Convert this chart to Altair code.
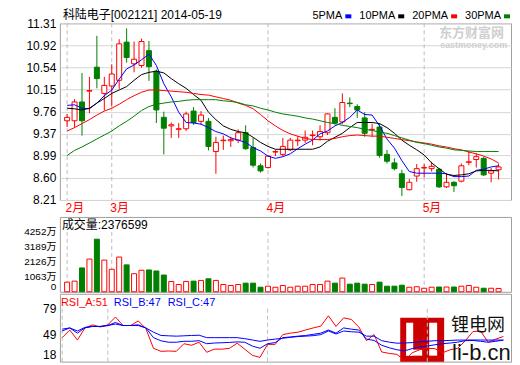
import altair as alt
import pandas as pd

# ---------------- data ----------------
IDX = list(range(59))
OPEN = [9.60, 9.60, 9.93, 10.12, 10.54, 10.08, 10.21, 10.31, 10.98, 10.60,
        10.57, 10.83, 10.47, 9.66, 9.51, 9.45, 9.46, 9.77, 9.59, 9.59,
        9.06, 9.25, 9.25, 9.26, 9.39, 9.13, 8.81, 8.78, 9.05, 9.01,
        9.09, 9.25, 9.26, 9.34, 9.32, 9.39, 9.66, 9.58, 9.91, 9.85,
        9.65, 9.44, 9.49, 9.01, 8.86, 8.67, 8.39, 8.63, 8.77, 8.76,
        8.75, 8.44, 8.52, 8.54, 8.87, 8.92, 8.94, 8.68, 8.74]
HIGH = [9.72, 9.98, 10.44, 10.37, 11.09, 10.37, 10.59, 11.03, 11.22, 10.99,
        11.04, 11.00, 10.50, 9.76, 9.57, 9.56, 9.76, 9.84, 9.77, 9.65,
        9.32, 9.34, 9.32, 9.45, 9.52, 9.30, 8.85, 9.00, 9.09, 9.30,
        9.30, 9.33, 9.43, 9.43, 9.52, 9.73, 9.82, 10.08, 10.01, 9.89,
        9.75, 9.55, 9.55, 9.09, 8.94, 8.74, 8.58, 8.84, 8.84, 8.88,
        8.77, 8.68, 8.54, 8.85, 9.07, 9.03, 8.97, 8.77, 8.85]
LOW = [9.49, 9.48, 9.34, 9.73, 10.17, 9.78, 9.85, 10.16, 10.62, 10.45,
       10.53, 10.30, 9.56, 9.01, 9.30, 9.30, 9.42, 9.53, 9.53, 9.08,
       8.67, 9.09, 9.14, 9.21, 9.09, 8.78, 8.69, 8.76, 8.98, 8.98,
       9.07, 9.16, 9.21, 9.17, 9.25, 9.35, 9.53, 9.54, 9.84, 9.65,
       9.32, 9.32, 8.95, 8.85, 8.73, 8.28, 8.38, 8.53, 8.61, 8.71,
       8.42, 8.42, 8.35, 8.52, 8.82, 8.78, 8.63, 8.52, 8.57]
CLOSE = [9.66, 9.93, 9.60, 10.13, 10.34, 10.22, 10.42, 10.95, 10.71, 10.68,
         10.99, 10.55, 9.79, 9.47, 9.53, 9.46, 9.72, 9.57, 9.70, 9.15,
         9.22, 9.26, 9.27, 9.39, 9.11, 8.82, 8.72, 8.98, 9.06, 9.15,
         9.26, 9.26, 9.31, 9.35, 9.41, 9.72, 9.56, 9.92, 9.90, 9.79,
         9.38, 9.45, 8.99, 8.89, 8.76, 8.43, 8.52, 8.76, 8.78, 8.80,
         8.44, 8.52, 8.46, 8.81, 8.88, 8.97, 8.65, 8.72, 8.79]
VOLUME = [685, 757, 1694, 2322, 3735, 2250, 1600, 2466, 1911, 1283,
          1528, 1550, 1478, 1190, 735, 519, 735, 757, 808, 923,
          808, 519, 447, 519, 613, 613, 324, 397, 324, 447,
          324, 397, 397, 519, 519, 757, 613, 973, 541, 613,
          541, 519, 685, 397, 397, 469, 324, 360, 252, 324,
          340, 340, 340, 397, 447, 324, 252, 252, 238]
MA5 = [9.87, 9.88, 9.82, 9.81, 9.91, 10.04, 10.14, 10.33, 10.51, 10.58,
       10.67, 10.77, 10.57, 10.25, 10.02, 9.75, 9.57, 9.56, 9.54, 9.48,
       9.41, 9.37, 9.30, 9.26, 9.22, 9.13, 9.07, 8.98, 8.94, 8.97,
       9.02, 9.11, 9.19, 9.26, 9.37, 9.42, 9.51, 9.57, 9.66, 9.79,
       9.71, 9.70, 9.51, 9.28, 9.12, 8.90, 8.71, 8.68, 8.68, 8.68,
       8.68, 8.67, 8.62, 8.62, 8.63, 8.73, 8.75, 8.79, 8.81]
MA10 = [9.82, 9.81, 9.79, 9.82, 9.91, 9.99, 10.08, 10.14, 10.20, 10.31,
        10.41, 10.45, 10.47, 10.44, 10.34, 10.25, 10.17, 10.06, 9.96, 9.75,
        9.62, 9.51, 9.45, 9.41, 9.39, 9.31, 9.22, 9.15, 9.10, 9.10,
        9.10, 9.10, 9.10, 9.10, 9.14, 9.24, 9.31, 9.38, 9.48, 9.57,
        9.57, 9.57, 9.55, 9.48, 9.38, 9.26, 9.17, 9.09, 9.00, 8.86,
        8.76, 8.66, 8.64, 8.65, 8.67, 8.72, 8.73, 8.73, 8.72]
MA20 = [9.42, 9.48, 9.55, 9.62, 9.70, 9.77, 9.82, 9.89, 9.97, 10.04,
        10.10, 10.14, 10.14, 10.13, 10.12, 10.11, 10.10, 10.08, 10.06, 10.05,
        10.02, 9.99, 9.96, 9.91, 9.87, 9.81, 9.71, 9.60, 9.51, 9.43,
        9.37, 9.33, 9.29, 9.27, 9.27, 9.27, 9.29, 9.32, 9.34, 9.35,
        9.34, 9.33, 9.33, 9.31, 9.29, 9.27, 9.25, 9.23, 9.21, 9.19,
        9.16, 9.14, 9.11, 9.09, 9.05, 9.02, 8.98, 8.93, 8.86]
MA30 = [8.99, 9.08, 9.14, 9.21, 9.28, 9.35, 9.42, 9.51, 9.59, 9.68,
        9.78, 9.85, 9.89, 9.91, 9.93, 9.94, 9.96, 9.97, 9.97, 9.97,
        9.97, 9.95, 9.94, 9.92, 9.88, 9.86, 9.82, 9.79, 9.75, 9.72,
        9.70, 9.68, 9.65, 9.63, 9.60, 9.57, 9.55, 9.52, 9.50, 9.48,
        9.45, 9.43, 9.40, 9.38, 9.34, 9.30, 9.26, 9.22, 9.20, 9.17,
        9.14, 9.12, 9.09, 9.08, 9.07, 9.06, 9.06, 9.06, 9.06]
RSI_A = [45.7, 54.5, 42.9, 56.9, 60.4, 58.0, 60.4, 69.5, 59.7, 59.7,
         65.0, 56.2, 33.4, 29.9, 30.3, 29.9, 38.7, 36.9, 40.4, 28.8,
         32.4, 32.4, 33.4, 39.3, 32.4, 25.3, 22.9, 37.9, 37.9, 49.2,
         50.9, 52.0, 54.5, 56.9, 59.0, 70.9, 58.7, 68.5, 66.7, 58.0,
         42.2, 49.2, 29.2, 27.5, 26.4, 19.4, 28.2, 31.7, 33.4, 33.0,
         28.2, 31.7, 33.4, 42.2, 52.7, 53.4, 40.4, 44.0, 47.0]
RSI_B = [53.4, 56.9, 50.9, 57.0, 58.7, 58.5, 59.7, 63.2, 59.7, 59.7,
         60.5, 56.9, 45.7, 42.0, 40.4, 40.4, 41.5, 41.5, 42.2, 38.7,
         39.5, 39.8, 40.2, 40.8, 40.4, 36.0, 33.4, 38.7, 40.0, 45.7,
         46.5, 47.4, 48.2, 49.5, 50.9, 54.5, 50.9, 56.9, 55.5, 54.5,
         44.0, 42.5, 36.9, 34.0, 31.7, 30.5, 33.0, 35.0, 36.0, 37.5,
         38.7, 39.5, 40.5, 42.2, 42.5, 41.5, 40.4, 41.5, 42.9]
RSI_C = [55.5, 56.9, 53.4, 57.5, 58.7, 58.7, 59.7, 61.4, 59.7, 59.7,
         59.7, 56.9, 52.0, 48.2, 47.8, 47.4, 47.8, 48.2, 48.5, 45.7,
         45.7, 45.7, 45.7, 45.7, 44.5, 43.0, 41.4, 43.0, 44.0, 45.0,
         46.0, 47.0, 47.4, 48.0, 49.2, 53.4, 49.9, 53.4, 52.5, 52.0,
         47.4, 47.4, 42.2, 40.5, 39.3, 39.5, 40.0, 41.0, 41.5, 42.2,
         42.2, 42.5, 42.9, 42.9, 43.0, 43.0, 42.9, 42.9, 42.9]

MONTH_POS = [0, 6, 27, 48]
MONTH_LABELS = ["2月", "3月", "4月", "5月"]
PRICE_TICKS = [8.21, 8.60, 8.99, 9.37, 9.76, 10.15, 10.54, 10.92, 11.31]
VOL_TICKS = [0, 1063, 2126, 3189, 4252]
RSI_TICKS = [18, 49, 79]
MA_NAMES = ["5PMA", "10PMA", "20PMA", "30PMA"]
MA_COLORS = ["#0000ff", "#000000", "#ff0000", "#008000"]
RSI_NAMES = ["RSI_A:51", "RSI_B:47", "RSI_C:47"]
RSI_COLORS = ["#ff0000", "#0000ff", "#0000ff"]
TITLE = "科陆电子[002121] 2014-05-19"
VOL_TITLE = "成交量:2376599"
WM_TOP = ["东方财富网", "eastmoney.com"]
WM_BOTTOM = ["锂电网", "li-b.cn"]

# ---------------- styling ----------------
FONT = "Liberation Sans, Noto Sans CJK SC"
RED = "#ff0000"
GREEN = "#008000"
W = 452
UP = "datum.close >= datum.open"
one = pd.DataFrame({"a": [0]})

df = pd.DataFrame({"i": IDX, "open": OPEN, "high": HIGH, "low": LOW,
                   "close": CLOSE, "vol": VOLUME})
months = pd.DataFrame({"pos": MONTH_POS})
ma_df = pd.concat([pd.DataFrame({"i": IDX, "v": vals, "s": name})
                   for name, vals in zip(MA_NAMES, [MA5, MA10, MA20, MA30])])
rsi_df = pd.concat([pd.DataFrame({"i": IDX, "v": vals, "s": name})
                    for name, vals in zip(RSI_NAMES, [RSI_A, RSI_B, RSI_C])])

xs = alt.Scale(domain=[-0.3, 59.0], nice=False, zero=False)
month_expr = "".join(f"datum.value == {p} ? '{l}' : " for p, l in zip(MONTH_POS, MONTH_LABELS)) + "''"
month_axis = alt.Axis(values=MONTH_POS, labelExpr=month_expr, title=None, ticks=False,
                      domain=False, grid=False, labelColor=RED, labelFontSize=12,
                      labelAlign="left", labelOffset=-2, labelPadding=3, labelFlush=False,
                      labelOverlap=False, minExtent=15, maxExtent=15)
X_MAIN = alt.X("i:Q", scale=xs, axis=month_axis)
X_NONE = alt.X("i:Q", scale=xs, axis=None)

yaxis_common = dict(title=None, ticks=False, domain=False, labelPadding=4,
                    minExtent=51, maxExtent=51, labelColor="black", labelOverlap=False)


def label(text, x, y, **kw):
    return alt.Chart(pd.DataFrame({"t": [text]})).mark_text(**kw).encode(
        text="t:N", x=alt.value(x), y=alt.value(y))


def box(x, x2, y, y2, color):
    return alt.Chart(one).mark_rect(color=color).encode(
        x=alt.value(x), x2=alt.value(x2), y=alt.value(y), y2=alt.value(y2))


# ---------- main price panel ----------
ps = alt.Scale(domain=[8.21, 11.31], nice=False, zero=False)
price_axis = alt.Axis(values=PRICE_TICKS, format=".2f", gridColor="#d6d6d6",
                      labelFontSize=12, **yaxis_common)

m_rules = alt.Chart(months).mark_rule(strokeDash=[4, 3], color="#bdbdbd").encode(
    x=alt.X("pos:Q", scale=xs, axis=month_axis))
wick = alt.Chart(df).mark_rule(strokeWidth=1).encode(
    x=X_MAIN, y=alt.Y("low:Q", scale=ps, axis=price_axis), y2="high:Q",
    color=alt.condition(UP, alt.value(RED), alt.value(GREEN)))
body = alt.Chart(df).mark_bar(size=5, strokeWidth=1).encode(
    x=X_MAIN, y=alt.Y("open:Q", scale=ps, axis=price_axis), y2="close:Q",
    fill=alt.condition(UP, alt.value("white"), alt.value(GREEN)),
    stroke=alt.condition(UP, alt.value(RED), alt.value(GREEN)))
ma = alt.Chart(ma_df).mark_line(strokeWidth=1).encode(
    x=X_MAIN, y=alt.Y("v:Q", scale=ps, axis=price_axis),
    color=alt.Color("s:N", scale=alt.Scale(domain=MA_NAMES, range=MA_COLORS), legend=None))

# legend of the moving averages: name, then a small colour swatch (as in the original)
legend_layers = []
for name, col, lx in zip(MA_NAMES, MA_COLORS, [253, 300, 353, 406]):
    w = 31 if name == "5PMA" else 37
    legend_layers.append(label(name, lx, -7, align="left", baseline="middle",
                               fontSize=11, color="black", font=FONT))
    legend_layers.append(box(lx + w + 2, lx + w + 8, -9, -5, col))

title_txt = label(TITLE, 3, -13, align="left", baseline="top", fontSize=12,
                  color="black", font=FONT)
wm1 = label(WM_TOP[0], 380, 14, align="left", baseline="alphabetic", fontSize=13,
            fontWeight="bold", color="#cfcfcf", font=FONT)
wm2 = label(WM_TOP[1], 381, 25, align="left", baseline="alphabetic", fontSize=9,
            fontWeight="bold", color="#cfcfcf", font=FONT)

main = alt.layer(m_rules, wick, body, ma, wm1, wm2, title_txt, *legend_layers).properties(
    width=W, height=177)

# ---------- volume panel ----------
vs = alt.Scale(domain=[0, 5315], nice=False, zero=True)
vol_axis = alt.Axis(values=VOL_TICKS,
                    labelExpr="datum.value == 0 ? '0' : datum.value + '万'",
                    gridColor={"condition": {"test": "datum.value == 4252", "value": "#a0a0a0"},
                               "value": "#d6d6d6"},
                    labelFlush=True, labelFontSize=10, **yaxis_common)
v_rules = alt.Chart(months).mark_rule(strokeDash=[4, 3], color="#bdbdbd").encode(
    x=alt.X("pos:Q", scale=xs, axis=None),
    y=alt.YDatum(0, scale=vs, axis=vol_axis), y2=alt.Y2Datum(4252))
vbars = alt.Chart(df).mark_bar(size=5, strokeWidth=1).encode(
    x=X_NONE, y=alt.Y("vol:Q", scale=vs, axis=vol_axis),
    fill=alt.condition(UP, alt.value("white"), alt.value(GREEN)),
    stroke=alt.condition(UP, alt.value(RED), alt.value(GREEN)))
vol_txt = label(VOL_TITLE, 2, 8, align="left", baseline="middle", fontSize=12,
                color="black", font=FONT)
vol = alt.layer(v_rules, vbars, vol_txt).properties(width=W, height=75)

# ---------- RSI panel ----------
rs = alt.Scale(domain=[18, 96.3], nice=False, zero=False)
rsi_axis = alt.Axis(values=RSI_TICKS, format="d",
                    gridColor={"condition": {"test": "datum.value == 79", "value": "#a0a0a0"},
                               "value": "#d6d6d6"},
                    labelFlush=True, labelFontSize=12, **yaxis_common)
logo = [box(341, 385, 24, 68, "#cc0000"), box(347, 354, 29, 62, "white"),
        box(347, 363, 56, 62, "white"), box(370, 378, 29, 62, "white")]
r_rules = alt.Chart(months).mark_rule(strokeDash=[4, 3], color="#bdbdbd").encode(
    x=alt.X("pos:Q", scale=xs, axis=None),
    y=alt.YDatum(18, scale=rs, axis=rsi_axis), y2=alt.Y2Datum(79))
rsi_lines = alt.Chart(rsi_df).mark_line(strokeWidth=1).encode(
    x=X_NONE, y=alt.Y("v:Q", scale=rs, axis=rsi_axis),
    color=alt.Color("s:N", scale=alt.Scale(domain=RSI_NAMES, range=RSI_COLORS), legend=None))
rsi_labels = [label(n, lx, 9, align="left", baseline="middle", fontSize=11, color=c, font=FONT)
              for n, c, lx in zip(RSI_NAMES, RSI_COLORS, [1, 54, 108])]
wm3 = label(WM_BOTTOM[0], 392, 32, align="left", baseline="middle", fontSize=18,
            color="#111111", font="Noto Sans CJK SC")
wm4 = label(WM_BOTTOM[1], 393, 59, align="left", baseline="middle", fontSize=22,
            color="#111111", font="Liberation Sans")

rsi = alt.layer(*logo, r_rules, rsi_lines, *rsi_labels, wm3, wm4).properties(
    width=W, height=68)

chart = alt.vconcat(main, vol, rsi, spacing=0).resolve_scale(
    color="independent").properties(
    padding={"left": 0, "top": 0, "right": 0, "bottom": 0}
).configure_view(stroke="#a0a0a0", strokeWidth=1).configure_axis(
    labelFont=FONT).configure_title(font=FONT)

chart.save("out.html", embed_options={"renderer": "svg", "actions": False})
